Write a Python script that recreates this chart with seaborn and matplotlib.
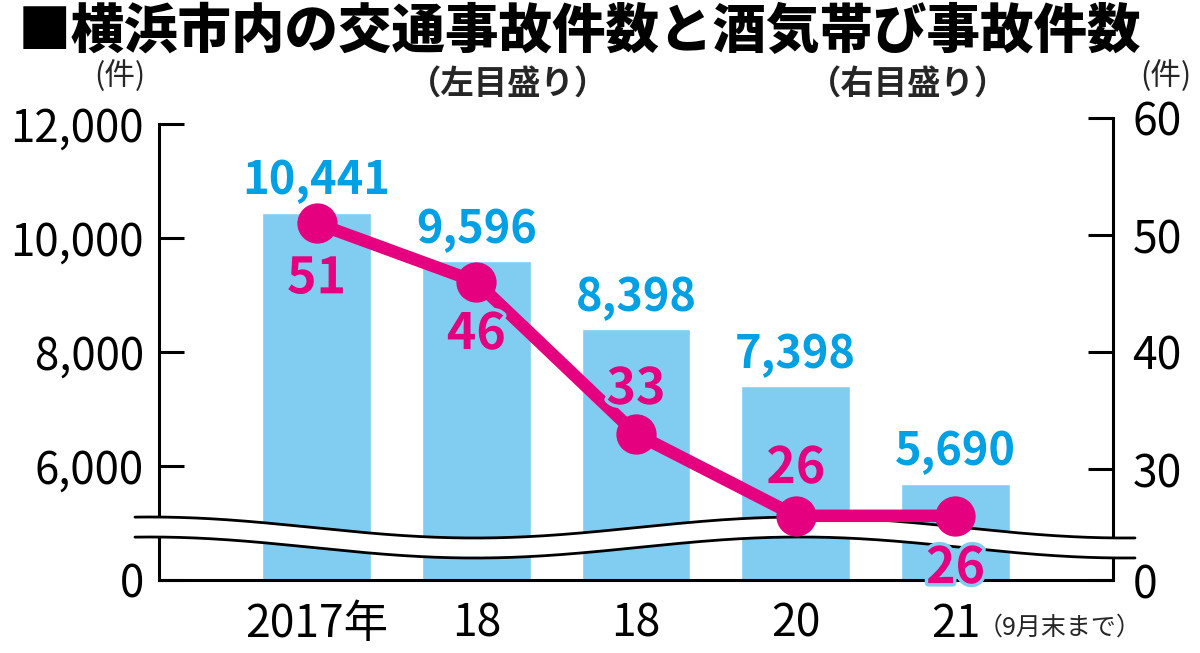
import numpy as np
import pandas as pd
import matplotlib
matplotlib.use("Agg")
import matplotlib.pyplot as plt
import seaborn as sns
from matplotlib import patheffects as pe

# data
years = ["2017", "2018", "2019", "2020", "2021"]
year_labels = ["2017年", "18", "18", "20", "21"]
accidents = [10441, 9596, 8398, 7398, 5690]      # left axis
drunk_accidents = [51, 46, 33, 26, 26]           # right axis
left_ticks = [4000, 6000, 8000, 10000, 12000]
left_ticklabels = ["0", "6,000", "8,000", "10,000", "12,000"]
right_ticks = [20.5, 30, 40, 50, 60]
right_ticklabels = ["0", "30", "40", "50", "60"]

BAR_BLUE = "#80cdf1"
TEXT_BLUE = "#00a0e4"
MAGENTA = "#e4007f"

sns.set_theme(style="white")
plt.rcParams["font.family"] = ["Noto Sans CJK JP", "DejaVu Sans"]

W, H = 1200, 653
fig = plt.figure(figsize=(W / 100, H / 100), dpi=100)
ax = fig.add_axes([159 / W, 1 - 580 / H, 954 / W, 456 / H])
ax2 = fig.add_axes([159 / W, 1 - 586 / H, 954 / W, 468 / H])
ax2.patch.set_visible(False)

df = pd.DataFrame({"year": years, "accidents": accidents, "drunk": drunk_accidents})

# bars (left scale)
sns.barplot(data=df, x="year", y="accidents", color=BAR_BLUE, saturation=1,
            width=0.68, ax=ax)
ax.bar_label(ax.containers[0], fmt="{:,.0f}", padding=6, color=TEXT_BLUE,
             fontsize=32.5, fontweight="bold")
ax.set_ylim(4000, 12000)
ax.set_xlim(-0.986, 4.986)
ax.set_xticks(range(len(years)), year_labels)
ax.set_yticks(left_ticks, left_ticklabels)
ax.set_xlabel("")
ax.set_ylabel("")
ax.tick_params(axis="y", left=True, direction="in", length=18, width=2.2,
               pad=11, labelsize=31.5, colors="black")
ax.tick_params(axis="x", bottom=False, length=0, pad=15, labelsize=32,
               colors="black")
for s in ["top", "right"]:
    ax.spines[s].set_visible(False)
for s in ["left", "bottom"]:
    ax.spines[s].set_linewidth(2.2)
    ax.spines[s].set_color("black")

# line (right scale)
x_pos = np.arange(len(years))
sns.lineplot(x=x_pos, y=df["drunk"], ax=ax2, color=MAGENTA, linewidth=9,
             marker="o", markersize=29, markeredgewidth=0, zorder=3)
offsets = [-40, -38, 32, 34, -38]
for i, v in enumerate(drunk_accidents):
    ax2.annotate(str(v), (i, v), xytext=(0, offsets[i]), textcoords="offset points",
                 ha="center", va="center", color=MAGENTA, fontsize=36,
                 fontweight="bold", zorder=6,
                 path_effects=[pe.withStroke(linewidth=5, foreground=BAR_BLUE)])

# axis break band
bx = np.linspace(135, 1135, 400)
bc = 537.5 - 10.5 * np.cos(2 * np.pi * (bx - 150) / 650)
fx = bx / W
ftop = 1 - (bc - 10) / H
fbot = 1 - (bc + 10) / H
ax2.fill_between(fx, fbot, ftop, transform=fig.transFigure, color="white",
                 lw=0, clip_on=False, zorder=2.6)
ax2.plot(fx, ftop, transform=fig.transFigure, color="black", lw=2,
         clip_on=False, zorder=2.7)
ax2.plot(fx, fbot, transform=fig.transFigure, color="black", lw=2,
         clip_on=False, zorder=2.7)

ax2.set_xlim(-0.986, 4.986)
ax2.set_ylim(20, 60)
ax2.yaxis.tick_right()
ax2.set_yticks(right_ticks, right_ticklabels)
ax2.set_xlabel("")
ax2.set_ylabel("")
ax2.tick_params(axis="y", right=True, left=False, labelright=True, labelleft=False,
                direction="in", length=18, width=2.2, pad=14, labelsize=32,
                colors="black")
ax2.tick_params(axis="x", bottom=False, labelbottom=False)
for s in ["top", "left", "bottom"]:
    ax2.spines[s].set_visible(False)
ax2.spines["right"].set_linewidth(2.2)
ax2.spines["right"].set_color("black")
ax2.spines["right"].set_bounds(20.5, 60)

# texts
fig.text(18 / W, 1 - 33 / H, "■横浜市内の交通事故件数と酒気帯び事故件数",
         fontsize=38.5, fontweight="heavy", color="black", ha="left", va="center")
fig.text(508 / W, 1 - 84 / H, "（左目盛り）", fontsize=24, fontweight="bold",
         ha="center", va="center")
fig.text(908 / W, 1 - 84 / H, "（右目盛り）", fontsize=24, fontweight="bold",
         ha="center", va="center")
fig.text(120 / W, 1 - 76 / H, "(件)", fontsize=22, ha="center", va="center")
fig.text(1166 / W, 1 - 76 / H, "(件)", fontsize=22, ha="center", va="center")
fig.text(1060 / W, 1 - 628 / H, "（9月末まで）", fontsize=18,
         ha="center", va="center")

fig.savefig("out.png", dpi=100)
